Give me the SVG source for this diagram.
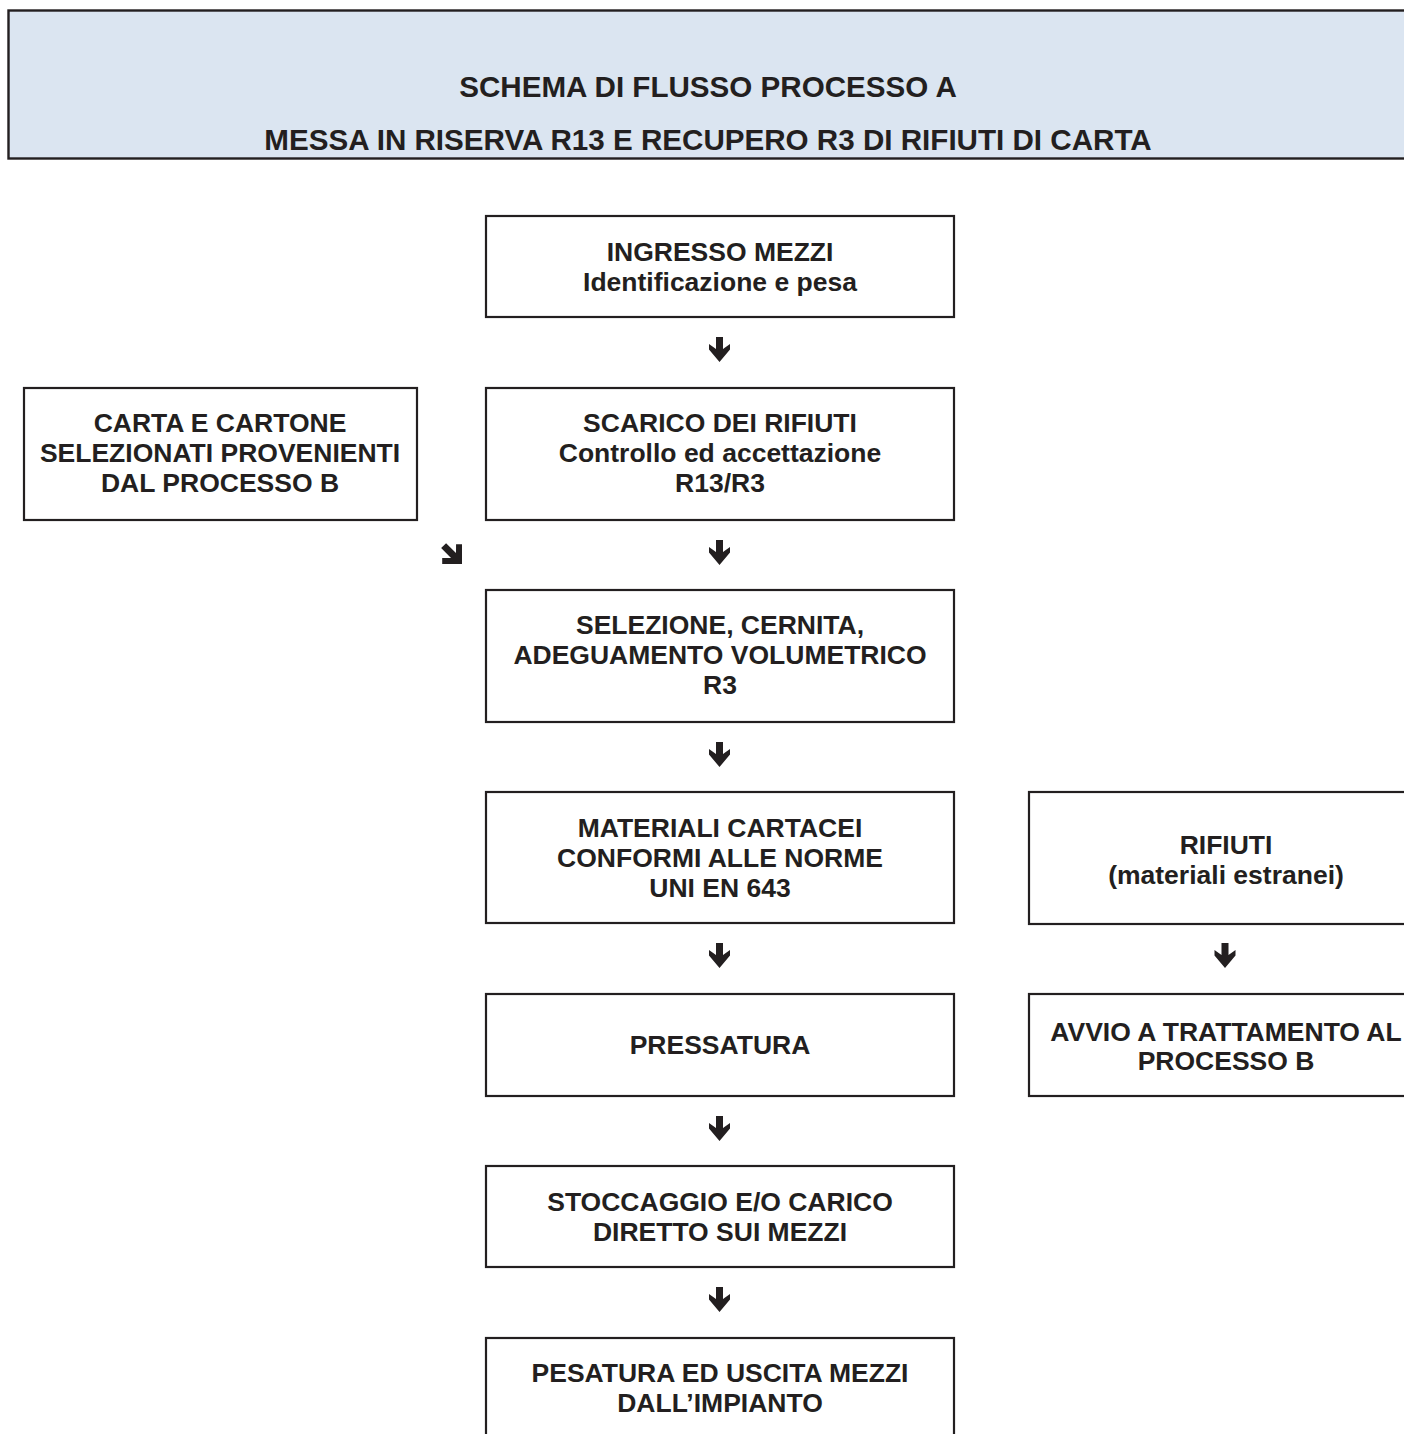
<svg xmlns="http://www.w3.org/2000/svg" xmlns:xlink="http://www.w3.org/1999/xlink" width="1404" height="1434" viewBox="0 0 1404 1434">
<style>
.box{fill:#ffffff;stroke:#231f20;stroke-width:2.2}
.hdr{fill:#dbe5f1;stroke:#231f20;stroke-width:2.4}
.t{font-family:"Liberation Sans",Arial,sans-serif;font-weight:bold;font-size:26.5px;fill:#231f20;text-anchor:middle}
.h{font-family:"Liberation Sans",Arial,sans-serif;font-weight:bold;font-size:29.6px;fill:#231f20;text-anchor:middle}
.arr{fill:#231f20}
</style>
<defs>
<path id="down" class="arr" d="M-3.5,0 H3.5 V12 L10.5,7 V12.5 L0,25 L-10.5,12.5 V7 L-3.5,12 Z"/>
<path id="diag" class="arr" d="M0,0 L-14,-14 L-9.8,-18.2 L-3.5,-12 L-3.5,-26 L3.5,-26 L3.5,-12 L9.8,-18.2 L14,-14 Z"/>
</defs>
<rect width="1404" height="1434" fill="#ffffff"/>

<g id="header">
<rect class="hdr" x="8.5" y="10.5" width="1420" height="148"/>
<text class="h" x="708" y="97">SCHEMA DI FLUSSO PROCESSO A</text>
<text class="h" x="708" y="150">MESSA IN RISERVA R13 E RECUPERO R3 DI RIFIUTI DI CARTA</text>
</g>

<g id="ingresso">
<rect class="box" x="486" y="216" width="468" height="101"/>
<text class="t" x="720" y="261">INGRESSO MEZZI</text>
<text class="t" x="720" y="291">Identificazione e pesa</text>
</g>

<g id="carta-cartone">
<rect class="box" x="24" y="388" width="393" height="132"/>
<text class="t" x="220" y="432">CARTA E CARTONE</text>
<text class="t" x="220" y="462">SELEZIONATI PROVENIENTI</text>
<text class="t" x="220" y="492">DAL PROCESSO B</text>
</g>

<g id="scarico">
<rect class="box" x="486" y="388" width="468" height="132"/>
<text class="t" x="720" y="432">SCARICO DEI RIFIUTI</text>
<text class="t" x="720" y="462">Controllo ed accettazione</text>
<text class="t" x="720" y="492">R13/R3</text>
</g>

<g id="selezione">
<rect class="box" x="486" y="590" width="468" height="132"/>
<text class="t" x="720" y="634">SELEZIONE, CERNITA,</text>
<text class="t" x="720" y="664">ADEGUAMENTO VOLUMETRICO</text>
<text class="t" x="720" y="694">R3</text>
</g>

<g id="materiali">
<rect class="box" x="486" y="792" width="468" height="131"/>
<text class="t" x="720" y="837">MATERIALI CARTACEI</text>
<text class="t" x="720" y="867">CONFORMI ALLE NORME</text>
<text class="t" x="720" y="897">UNI EN 643</text>
</g>

<g id="rifiuti">
<rect class="box" x="1029" y="792" width="400" height="132"/>
<text class="t" x="1226" y="854">RIFIUTI</text>
<text class="t" x="1226" y="884">(materiali estranei)</text>
</g>

<g id="pressatura">
<rect class="box" x="486" y="994" width="468" height="102"/>
<text class="t" x="720" y="1054">PRESSATURA</text>
</g>

<g id="avvio">
<rect class="box" x="1029" y="994" width="400" height="102"/>
<text class="t" x="1226" y="1041">AVVIO A TRATTAMENTO AL</text>
<text class="t" x="1226" y="1070">PROCESSO B</text>
</g>

<g id="stoccaggio">
<rect class="box" x="486" y="1166" width="468" height="101"/>
<text class="t" x="720" y="1211">STOCCAGGIO E/O CARICO</text>
<text class="t" x="720" y="1241">DIRETTO SUI MEZZI</text>
</g>

<g id="pesatura">
<rect class="box" x="486" y="1338" width="468" height="140"/>
<text class="t" x="720" y="1382">PESATURA ED USCITA MEZZI</text>
<text class="t" x="720" y="1412">DALL’IMPIANTO</text>
</g>

<g id="connectors">
<use xlink:href="#down" href="#down" transform="translate(719.5,337)"/>
<use xlink:href="#down" href="#down" transform="translate(719.5,540)"/>
<use xlink:href="#down" href="#down" transform="translate(719.5,742)"/>
<use xlink:href="#down" href="#down" transform="translate(719.5,943)"/>
<use xlink:href="#down" href="#down" transform="translate(1225,943)"/>
<use xlink:href="#down" href="#down" transform="translate(719.5,1116)"/>
<use xlink:href="#down" href="#down" transform="translate(719.5,1287)"/>
<use xlink:href="#diag" href="#diag" transform="translate(462,564) rotate(-45)"/>
</g>
</svg>
